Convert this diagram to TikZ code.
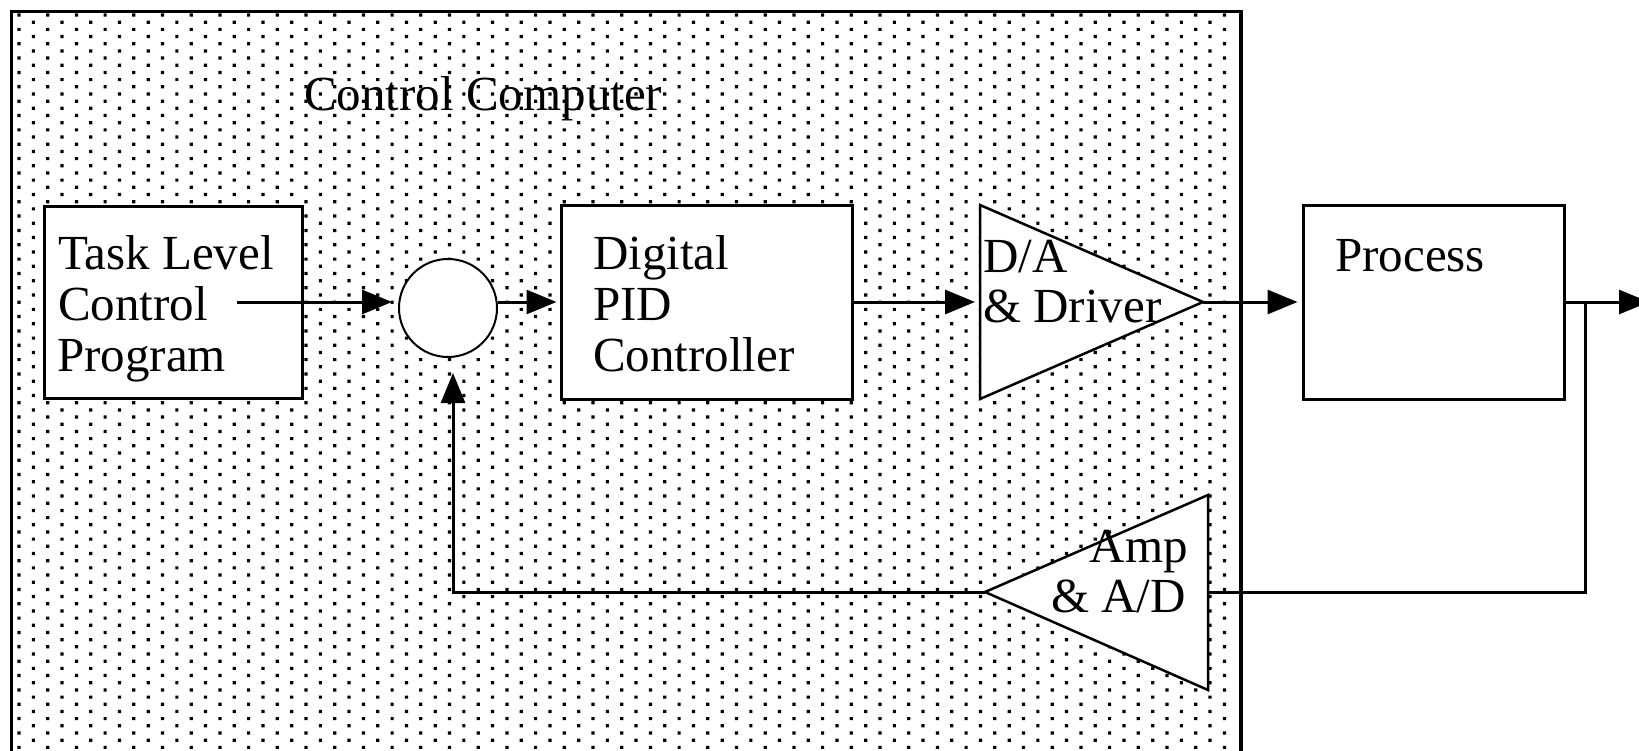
\documentclass[tikz,border=0pt]{standalone}
\usepackage{fontspec}
\setmainfont{Liberation Serif}
\usetikzlibrary{arrows.meta}
\begin{document}
\begin{tikzpicture}[x=1pt,y=-1pt,
  lbl/.style={inner sep=0pt, font=\fontsize{49}{51}\selectfont},
  blk/.style={draw, fill=white, line width=3pt, inner sep=0pt},
  wire/.style={line width=3pt},
  arr/.style={wire, -{Triangle[length=30pt,width=24pt]}},
  amptri/.style={line width=2.5pt, fill=white, line join=miter}]
\useasboundingbox (0,0) rectangle (1639,750);
\clip (0,0) rectangle (1639,750);
% outer container
\node[draw, line width=3.5pt, inner sep=0pt, minimum width=1229.5pt, minimum height=778.5pt] (cc) at (626.25,400.75) {};
\begin{scope}
\clip (13.5,13.5) rectangle (1235,750);
\fill[black] \foreach \n in {0,...,102} { \foreach \k in {0,...,42} {
  ({17.4+14.35*mod(\n,2)+28.7*\k},{13.4+7.18*\n}) rectangle ++(3.2,3.2) } };
\end{scope}
\node[lbl, anchor=base west] (cclbl) at (304,110) {Control Computer};
% blocks
\node[blk, minimum width=258pt, minimum height=192pt] (task) at (173,302) {};
\node[blk, minimum width=291pt, minimum height=194pt] (dig) at (706.5,302) {};
\node[blk, minimum width=261pt, minimum height=194pt] (proc) at (1433.5,302) {};
\node[draw, fill=white, circle, line width=2pt, minimum size=98pt, inner sep=0pt] (sum) at (448,308) {};
\draw[amptri] (980,205) -- (1203,302) -- (980,399) -- cycle;
\draw[amptri] (1208,495) -- (985,592) -- (1208,690) -- cycle;
\coordinate (da_in) at (980,302);
\coordinate (da_tip) at (1203,302);
\coordinate (amp_in) at (1208,592);
\coordinate (amp_tip) at (985,592);
\coordinate (tsk_out) at (237,302);
\coordinate (out) at (1649,302);
\coordinate (brn) at (1585,302);
% texts
\node[lbl, anchor=base west] (t1) at (58,269) {Task Level};
\node[lbl, anchor=base west] (t2) at (58,320) {Control};
\node[lbl, anchor=base west] (t3) at (57,371) {Program};
\node[lbl, anchor=base west] (d1) at (593,269) {Digital};
\node[lbl, anchor=base west] (d2) at (593,320) {PID};
\node[lbl, anchor=base west] (d3) at (593,371) {Controller};
\node[lbl, anchor=base west] (p1) at (1335,271) {Process};
\node[lbl, anchor=base west] (a1) at (983,272) {D/A};
\node[lbl, anchor=base west] (a2) at (983,322) {\& Driver};
\node[lbl, anchor=base east] (m1) at (1188,562) {Amp};
\node[lbl, anchor=base east] (m2) at (1186,612) {\& A/D};
% connectors
\draw[arr, shorten >=6pt] (tsk_out) -- (tsk_out -| sum.west);
\draw[arr, shorten >=3pt] (sum.east |- dig.west) -- (dig.west);
\draw[arr, shorten >=5pt] (dig.east) -- (da_in);
\draw[arr, shorten >=4pt] (da_tip) -- (proc.west);
\draw[arr] (proc.east) -- (out);
\draw[wire] (brn) |- (amp_in);
\draw[arr, shorten >=15pt] (amp_tip) -| ([xshift=5pt]sum.south);
\end{tikzpicture}
\end{document}
